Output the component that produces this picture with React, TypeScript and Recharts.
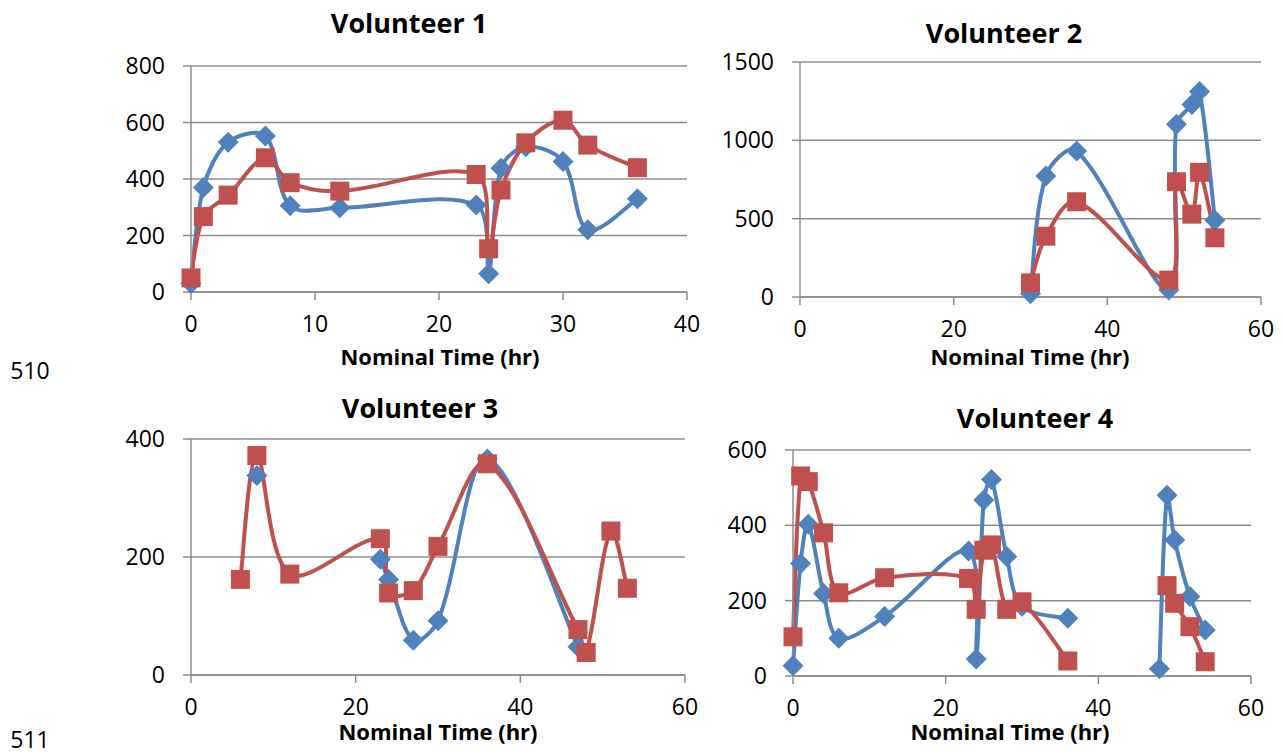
import React from 'react';
import { LineChart, Line, XAxis, YAxis, CartesianGrid } from 'recharts';

// nominal time (hr) and measured values per volunteer
const V1_TIME = [0, 1, 3, 6, 8, 12, 23, 24, 25, 27, 30, 32, 36];
const V1_BLUE = [30, 370, 530, 552, 305, 298, 308, 65, 438, 514, 462, 220, 330];
const V1_RED = [50, 267, 343, 475, 387, 357, 416, 153, 361, 528, 608, 520, 440];

const V2_TIME = [30, 32, 36, 48, 49, 51, 52, 54];
const V2_BLUE = [20, 772, 932, 45, 1103, 1228, 1312, 490];
const V2_RED = [90, 388, 608, 108, 736, 529, 796, 378];

const V3_TIME = [6, 8, 12, 23, 24, 27, 30, 36, 47, 48, 51, 53];
const V3_BLUE = [null, 338, null, 196, 162, 59, 92, 366, 48, null, null, null];
const V3_RED = [162, 372, 171, 231, 139, 143, 218, 358, 77, 38, 244, 147];

// 42 is only a break in both lines
const V4_TIME = [0, 1, 2, 4, 6, 12, 23, 24, 25, 26, 28, 30, 36, 42, 48, 49, 50, 52, 54];
const V4_BLUE = [27, 299, 403, 219, 100, 158, 332, 45, 467, 522, 317, 185, 153, null, 19, 480, 361, 211, 122];
const V4_RED = [104, 531, 516, 380, 221, 261, 259, 177, 334, 348, 177, 197, 40, null, null, 240, 193, 131, 38];

const X_TICKS_40 = [0, 10, 20, 30, 40];
const X_TICKS_60 = [0, 20, 40, 60];

const BLUE = '#4F81BD';
const RED = '#C0504D';
const GRID = '#8c8c8c';
const FONT = '"Open Sans", "Liberation Sans", sans-serif';

// Excel-like smoothed line: Catmull-Rom with tangents scaled by chord length
const excelSmooth = (context: any) => {
  let pts: number[][] = [];
  const dist = (a: number[], b: number[]) => Math.hypot(b[0] - a[0], b[1] - a[1]) || 1e-6;
  return {
    areaStart() {},
    areaEnd() {},
    lineStart() {
      pts = [];
    },
    point(x: number, y: number) {
      pts.push([+x, +y]);
    },
    lineEnd() {
      const n = pts.length;
      if (!n) return;
      context.moveTo(pts[0][0], pts[0][1]);
      if (n === 1) return;
      if (n === 2) {
        context.lineTo(pts[1][0], pts[1][1]);
        return;
      }
      for (let i = 0; i < n - 1; i++) {
        const p0 = pts[i - 1] || pts[i];
        const p1 = pts[i];
        const p2 = pts[i + 1];
        const p3 = pts[i + 2] || p2;
        const d01 = dist(p0, p1);
        const d12 = dist(p1, p2);
        const d23 = dist(p2, p3);
        const k1 = i === 0 ? 1 / 6 : d12 / (d01 + d12) / 3;
        const k2 = i === n - 2 ? 1 / 6 : d12 / (d12 + d23) / 3;
        context.bezierCurveTo(
          p1[0] + (p2[0] - p0[0]) * k1,
          p1[1] + (p2[1] - p0[1]) * k1,
          p2[0] - (p3[0] - p1[0]) * k2,
          p2[1] - (p3[1] - p1[1]) * k2,
          p2[0],
          p2[1]
        );
      }
    },
  };
};

const Diamond = (props: any) => {
  const { cx, cy, index } = props;
  if (cx == null || cy == null || props.value == null) return <g key={`d-${index}`} />;
  const r = 10.5;
  return (
    <polygon
      key={`d-${index}`}
      points={`${cx},${cy - r} ${cx + r},${cy} ${cx},${cy + r} ${cx - r},${cy}`}
      fill={BLUE}
    />
  );
};

const Square = (props: any) => {
  const { cx, cy, index } = props;
  if (cx == null || cy == null || props.value == null) return <g key={`s-${index}`} />;
  const h = 9.5;
  return <rect key={`s-${index}`} x={cx - h} y={cy - h} width={h * 2} height={h * 2} fill={RED} />;
};

interface PanelProps {
  title: string;
  time: number[];
  blue: (number | null)[];
  red: (number | null)[];
  xTicks: number[];
  yTicks: number[];
  box: [number, number, number, number]; // plot left, top, right, bottom
  titlePos: [number, number];
  axisTitlePos: [number, number];
}

const Y_AXIS_W = 90;
const X_AXIS_H = 50;
const PAD = 20;

function Panel({ title, time, blue, red, xTicks, yTicks, box, titlePos, axisTitlePos }: PanelProps) {
  const [l, t, r, b] = box;
  const data = time.map((x, i) => ({ t: x, blue: blue[i], red: red[i] }));
  const width = r - l + Y_AXIS_W + PAD;
  const height = b - t + PAD + X_AXIS_H;
  const tickStyle = { fontSize: 23, fill: '#000', fontFamily: FONT };

  return (
    <>
      <div
        style={{
          position: 'absolute',
          left: titlePos[0],
          top: titlePos[1],
          transform: 'translate(-50%, -50%)',
          fontSize: 27,
          fontWeight: 700,
          whiteSpace: 'nowrap',
          lineHeight: 1,
        }}
      >
        {title}
      </div>
      <div style={{ position: 'absolute', left: l - Y_AXIS_W, top: t - PAD }}>
        <LineChart width={width} height={height} data={data} margin={{ top: PAD, right: PAD, left: 0, bottom: 0 }}>
          <CartesianGrid horizontal vertical={false} stroke={GRID} strokeWidth={1.5} />
          <XAxis
            type="number"
            dataKey="t"
            domain={[xTicks[0], xTicks[xTicks.length - 1]]}
            ticks={xTicks}
            interval={0}
            height={X_AXIS_H}
            tickSize={8}
            tickMargin={16}
            tick={tickStyle}
            stroke={GRID}
            strokeWidth={1.5}
          />
          <YAxis
            type="number"
            domain={[yTicks[0], yTicks[yTicks.length - 1]]}
            ticks={yTicks}
            interval={0}
            width={Y_AXIS_W}
            tickSize={8}
            tickMargin={18}
            tick={tickStyle}
            stroke={GRID}
            strokeWidth={1.5}
          />
          <Line
            dataKey="blue"
            type={excelSmooth as any}
            stroke={BLUE}
            strokeWidth={4}
            dot={Diamond}
            activeDot={false}
            connectNulls={false}
            isAnimationActive={false}
          />
          <Line
            dataKey="red"
            type={excelSmooth as any}
            stroke={RED}
            strokeWidth={4}
            dot={Square}
            activeDot={false}
            connectNulls={false}
            isAnimationActive={false}
          />
        </LineChart>
      </div>
      <div
        style={{
          position: 'absolute',
          left: axisTitlePos[0],
          top: axisTitlePos[1],
          transform: 'translate(-50%, -50%)',
          fontSize: 22,
          fontWeight: 700,
          whiteSpace: 'nowrap',
          lineHeight: 1,
        }}
      >
        Nominal Time (hr)
      </div>
    </>
  );
}

export default function App() {
  return (
    <div
      style={{
        position: 'absolute',
        left: 0,
        top: 0,
        width: 1283,
        height: 754,
        background: '#fff',
        fontFamily: FONT,
        color: '#000',
      }}
    >
      <Panel
        title="Volunteer 1"
        time={V1_TIME}
        blue={V1_BLUE}
        red={V1_RED}
        xTicks={X_TICKS_40}
        yTicks={[0, 200, 400, 600, 800]}
        box={[191, 66, 687, 292]}
        titlePos={[409, 22]}
        axisTitlePos={[440, 356]}
      />
      <Panel
        title="Volunteer 2"
        time={V2_TIME}
        blue={V2_BLUE}
        red={V2_RED}
        xTicks={X_TICKS_60}
        yTicks={[0, 500, 1000, 1500]}
        box={[800, 62, 1261, 297]}
        titlePos={[1004, 32]}
        axisTitlePos={[1030, 356]}
      />
      <Panel
        title="Volunteer 3"
        time={V3_TIME}
        blue={V3_BLUE}
        red={V3_RED}
        xTicks={X_TICKS_60}
        yTicks={[0, 200, 400]}
        box={[191, 439, 685, 675]}
        titlePos={[420, 407]}
        axisTitlePos={[438, 731]}
      />
      <Panel
        title="Volunteer 4"
        time={V4_TIME}
        blue={V4_BLUE}
        red={V4_RED}
        xTicks={X_TICKS_60}
        yTicks={[0, 200, 400, 600]}
        box={[793, 450, 1251, 676]}
        titlePos={[1035, 417]}
        axisTitlePos={[1010, 731]}
      />
      <div style={{ position: 'absolute', left: 30, top: 370, transform: 'translate(-50%, -50%)', fontSize: 23, lineHeight: 1 }}>
        510
      </div>
      <div style={{ position: 'absolute', left: 30, top: 739, transform: 'translate(-50%, -50%)', fontSize: 23, lineHeight: 1 }}>
        511
      </div>
    </div>
  );
}
